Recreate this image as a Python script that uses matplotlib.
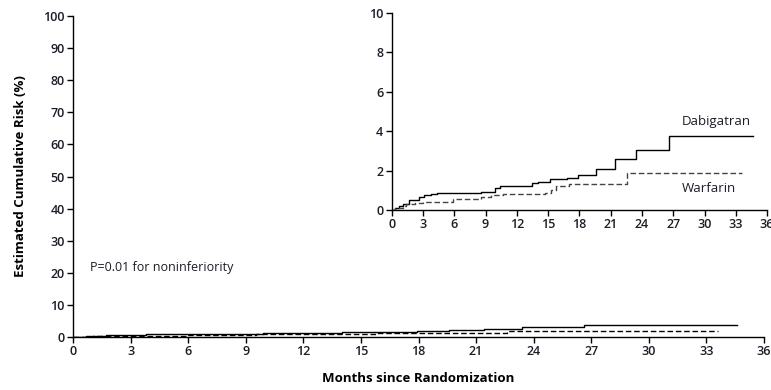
import matplotlib
matplotlib.use("Agg")
import matplotlib.pyplot as plt
import numpy as np

plt.rcParams['font.family'] = ['Open Sans', 'DejaVu Sans']

# step curves (months, cumulative risk %)
dabi_months = [0, 0.3, 0.7, 1.06, 1.7, 2.66, 3.1, 3.8, 4.3, 8.6, 9.9, 10.4,
               13.5, 14.0, 15.2, 16.8, 17.9, 19.6, 21.4, 23.4, 26.6, 34.6]
dabi_risk = [0, 0.1, 0.2, 0.32, 0.5, 0.68, 0.76, 0.82, 0.86, 0.93, 1.1, 1.24,
             1.39, 1.44, 1.56, 1.64, 1.78, 2.07, 2.59, 3.03, 3.76, 3.76]

warf_months = [0, 0.3, 1.06, 1.4, 2.2, 3.0, 5.9, 8.6, 9.55, 10.7, 14.7, 15.3,
               15.8, 17.0, 22.6, 33.6]
warf_risk = [0, 0.1, 0.2, 0.3, 0.35, 0.4, 0.56, 0.68, 0.78, 0.83, 0.88, 1.0,
             1.2, 1.34, 1.88, 1.88]

x_ticks = np.arange(0, 37, 3)
main_y_ticks = np.arange(0, 101, 10)
inset_y_ticks = np.arange(0, 11, 2)

ink = '#1c1c2a'

fig = plt.figure(figsize=(7.71, 3.9), dpi=100)
ax = fig.add_axes([0.0947, 0.1359, 0.8963, 0.823])


def style(a, yticks, ymax):
    a.set_xlim(0, 36)
    a.set_ylim(0, ymax)
    a.set_xticks(x_ticks)
    a.set_yticks(yticks)
    for s in ['top', 'right']:
        a.spines[s].set_visible(False)
    for s in ['left', 'bottom']:
        a.spines[s].set_linewidth(1.0)
        a.spines[s].set_color('black')
    a.tick_params(direction='out', length=4, width=1, labelsize=9,
                  labelcolor=ink, pad=2)
    for lab in a.get_xticklabels() + a.get_yticklabels():
        lab.set_fontweight('semibold')


ax.step(dabi_months, dabi_risk, where='post', color='black', lw=1.0)
ax.step(warf_months, warf_risk, where='post', color='black', lw=1.0, ls=(0, (4, 2)))
style(ax, main_y_ticks, 100)
ax.set_xlabel("Months since Randomization", fontsize=9.5, fontweight='bold', labelpad=10)
ax.set_ylabel("Estimated Cumulative Risk (%)", fontsize=9.5, fontweight='bold', labelpad=12)
ax.text(0.9, 21.5, "P=0.01 for noninferiority", fontsize=9, color=ink, va='center')

ins = fig.add_axes([0.508, 0.4615, 0.487, 0.505])
ins.patch.set_alpha(0)
ins.step(dabi_months, dabi_risk, where='post', color='black', lw=1.0)
ins.step(warf_months, warf_risk, where='post', color='#444444', lw=1.0, ls=(0, (4, 2)))
style(ins, inset_y_ticks, 10)
ins.text(31.1, 4.5, "Dabigatran", fontsize=9.5, color=ink, ha='center', va='center')
ins.text(30.4, 1.1, "Warfarin", fontsize=9.5, color=ink, ha='center', va='center')

fig.savefig("out.png", dpi=100)
